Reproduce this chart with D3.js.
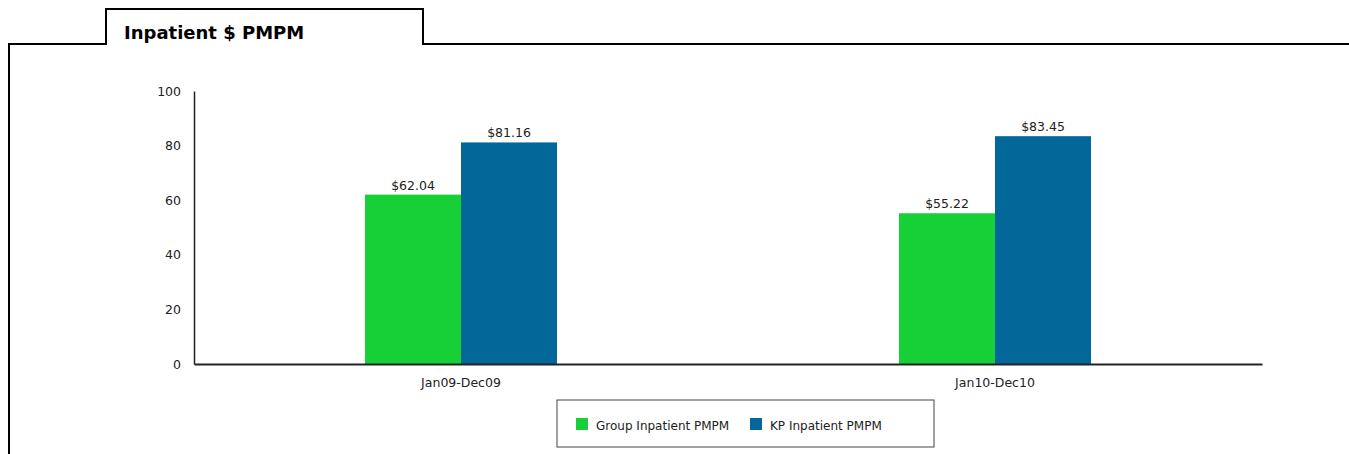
<!DOCTYPE html>
<html>
<head>
<meta charset="utf-8">
<script src="https://cdn.jsdelivr.net/npm/d3@7"></script>
<style>
  body { margin: 0; background: #fff; }
  svg { display: block; font-family: "DejaVu Sans", sans-serif; }
</style>
</head>
<body>
<svg id="chart" width="1349" height="454"></svg>
<script>
const periods = ["Jan09-Dec09", "Jan10-Dec10"];
const seriesNames = ["Group Inpatient PMPM", "KP Inpatient PMPM"];
const groupValues = [62.04, 55.22];
const kpValues = [81.16, 83.45];
const seriesColors = ["#17cf36", "#036799"];
const yTicks = [0, 20, 40, 60, 80, 100];

const width = 1349, height = 454;
const margin = {top: 91, right: 87, left: 194};
const baseline = 364;

let svg = d3.select("#chart");

// panel border with tab
svg.append("path")
    .attr("d", "M9,454 V44 H106 V9 H423 V44 H1349")
    .attr("fill", "none")
    .attr("stroke", "#000")
    .attr("stroke-width", 2);

svg.append("text")
    .attr("x", 124)
    .attr("y", 39)
    .style("font-size", "18px")
    .style("font-weight", "bold")
    .text("Inpatient $ PMPM");

let g = svg.append("g")
    .attr("transform", `translate(${margin.left}, ${margin.top})`);

let plotW = width - margin.left - margin.right;
let plotH = baseline - margin.top;

let x0 = d3.scaleBand().domain(periods).range([0, plotW]);
let x1 = d3.scaleBand().domain(seriesNames).range([0, 192]);
let y = d3.scaleLinear().domain([0, 100]).range([plotH, 0]);

let data = periods.map((p, i) => ({
    period: p,
    values: [
        {name: seriesNames[0], value: groupValues[i]},
        {name: seriesNames[1], value: kpValues[i]}
    ]
}));

let color = d3.scaleOrdinal().domain(seriesNames).range(seriesColors);

let groups = g.selectAll(".grp").data(data).enter()
    .append("g")
    .attr("transform", d => `translate(${x0(d.period) + x0.bandwidth() / 2 - 96}, 0)`);

groups.selectAll("rect").data(d => d.values).enter()
    .append("rect")
    .attr("x", d => x1(d.name))
    .attr("y", d => y(d.value))
    .attr("width", x1.bandwidth())
    .attr("height", d => plotH - y(d.value))
    .attr("fill", d => color(d.name));

groups.selectAll("text").data(d => d.values).enter()
    .append("text")
    .attr("x", d => x1(d.name) + x1.bandwidth() / 2)
    .attr("y", d => y(d.value) - 5)
    .style("text-anchor", "middle")
    .style("font-size", "12.5px")
    .attr("fill", "#222")
    .text(d => "$" + d.value.toFixed(2));

// axes
let yAxis = g.append("g")
    .call(d3.axisLeft(y).tickValues(yTicks).tickSize(0).tickPadding(13));
yAxis.attr("font-family", null);
yAxis.select(".domain").attr("stroke", "#222").attr("stroke-width", 1.5);
yAxis.selectAll("text").style("font-size", "12.5px").attr("fill", "#222");

let xAxis = g.append("g")
    .attr("transform", `translate(0, ${plotH})`)
    .call(d3.axisBottom(x0).tickSize(0).tickPadding(14));
xAxis.attr("font-family", null);
xAxis.select(".domain").attr("stroke", "#222").attr("stroke-width", 2);
xAxis.selectAll("text").style("font-size", "12.5px").attr("fill", "#222");

// legend
let legend = svg.append("g").attr("transform", "translate(557, 400)");
legend.append("rect")
    .attr("width", 377).attr("height", 47)
    .attr("fill", "#fff").attr("stroke", "#444").attr("stroke-width", 1);
let legendX = [19, 193];
seriesNames.forEach((n, i) => {
    legend.append("rect")
        .attr("x", legendX[i]).attr("y", 18)
        .attr("width", 12).attr("height", 12)
        .attr("fill", seriesColors[i]);
    legend.append("text")
        .attr("x", legendX[i] + 20).attr("y", 30)
        .style("font-size", "12px")
        .attr("fill", "#222")
        .text(n);
});
</script>
</body>
</html>
